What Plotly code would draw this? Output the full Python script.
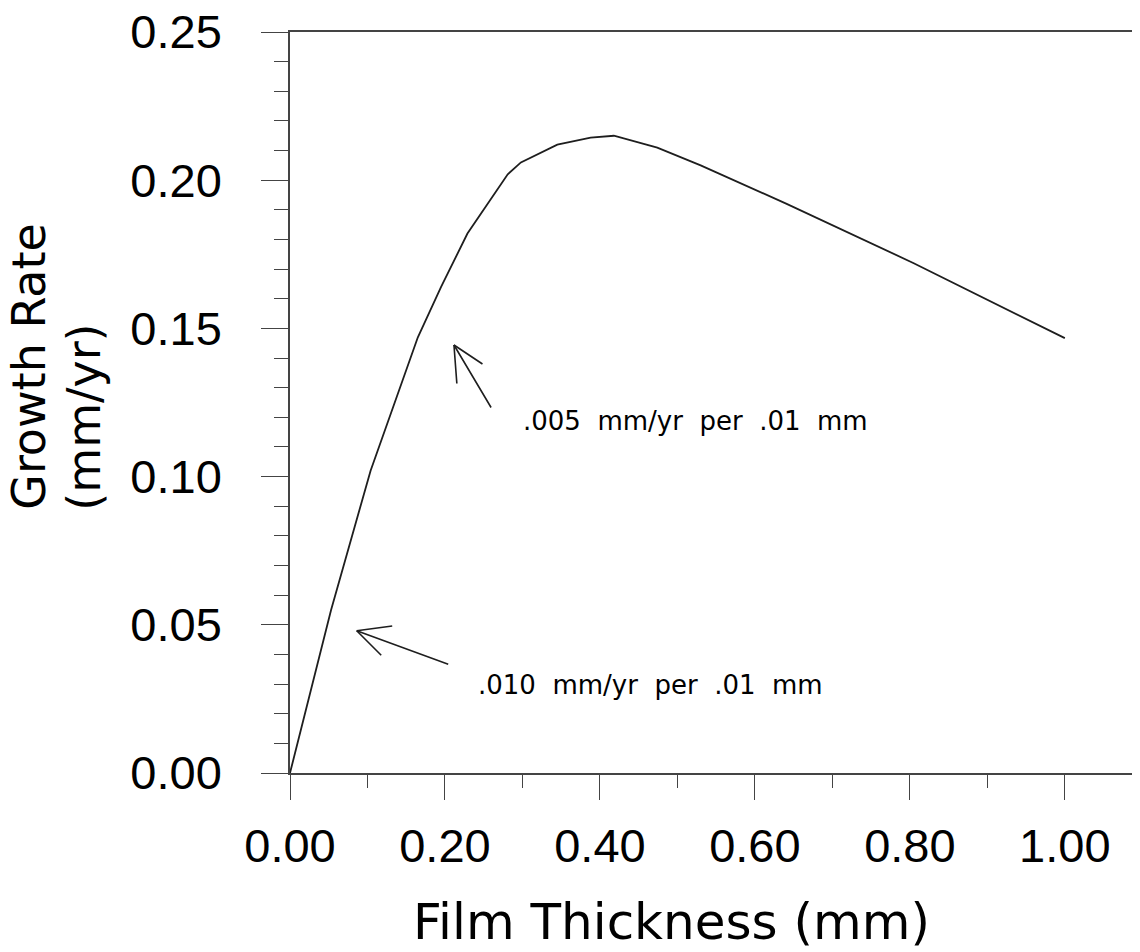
import plotly.graph_objects as go

# film thickness (mm) vs growth rate (mm/yr)
thickness = [0, 0.053, 0.104, 0.135, 0.165, 0.195, 0.229, 0.281, 0.298, 0.345, 0.388, 0.418, 0.474, 0.530, 0.641, 0.805, 1.0]
growth = [0, 0.055, 0.102, 0.125, 0.147, 0.164, 0.182, 0.202, 0.206, 0.212, 0.2144, 0.215, 0.211, 0.205, 0.192, 0.172, 0.1467]

xticks = [0, 0.2, 0.4, 0.6, 0.8, 1.0]
xticklabels = ["0.00", "0.20", "0.40", "0.60", "0.80", "1.00"]
yticks = [0, 0.05, 0.10, 0.15, 0.20, 0.25]
yticklabels = ["0.00", "0.05", "0.10", "0.15", "0.20", "0.25"]

slope_notes = [".005  mm/yr  per  .01  mm", ".010  mm/yr  per  .01  mm"]
note_pos = [(0.2975, 0.1188), (0.2400, 0.0297)]
arrow_tips = [(0.2116, 0.1444), (0.0861, 0.0480)]
# tail + two head arms, as pixel offsets from the tip
arrow_strokes = [[(38, 64), (30, 20), (3, 40)], [(93, 34), (37, -5), (26, 26)]]

INK = "#1e1e1e"
AXIS = "#444444"
TICKFONT = dict(family="Liberation Sans, Arial", size=47, color="black")
TITLEFONT = "DejaVu Sans"

fig = go.Figure()
fig.add_trace(go.Scatter(x=thickness, y=growth, mode="lines",
                         line=dict(color=INK, width=1.8), hoverinfo="skip"))

# the page body adds an 8px offset, so the figure is trimmed by that amount
fig.update_layout(
    width=1132, height=944,
    margin=dict(l=282, r=0, t=24, b=179),
    paper_bgcolor="white", plot_bgcolor="white",
    showlegend=False,
    xaxis=dict(range=[0, 1.097], tickvals=xticks, ticktext=xticklabels, tickfont=TICKFONT,
               automargin=False, ticklabeloverflow="allow",
               showgrid=False, zeroline=False, showline=True, linecolor=AXIS, linewidth=1.5,
               mirror=True, ticks="outside", ticklen=25, tickwidth=1.3, tickcolor=AXIS,
               ticklabelstandoff=6,
               minor=dict(dtick=0.1, ticks="outside", ticklen=13, tickwidth=1.3, tickcolor=AXIS)),
    yaxis=dict(range=[0, 0.25], tickvals=yticks, ticktext=yticklabels, tickfont=TICKFONT,
               automargin=False, ticklabeloverflow="allow",
               showgrid=False, zeroline=False, showline=True, linecolor=AXIS, linewidth=1.5,
               ticks="outside", ticklen=27, tickwidth=1.3, tickcolor=AXIS,
               ticklabelstandoff=30,
               minor=dict(dtick=0.01, ticks="outside", ticklen=14, tickwidth=1.3, tickcolor=AXIS)),
)

# axis titles
fig.add_annotation(text="Film Thickness (mm)", xref="paper", yref="paper", x=0.449, y=-0.201,
                   xanchor="center", yanchor="middle", showarrow=False,
                   font=dict(family=TITLEFONT, size=50, color="black"))
fig.add_annotation(text="Growth Rate", xref="paper", yref="paper", x=-0.307, y=0.352,
                   xanchor="center", yanchor="bottom", textangle=-90, showarrow=False,
                   font=dict(family=TITLEFONT, size=46, color="black"))
fig.add_annotation(text="(mm/yr)", xref="paper", yref="paper", x=-0.2424, y=0.352,
                   xanchor="center", yanchor="bottom", textangle=-90, showarrow=False,
                   font=dict(family=TITLEFONT, size=46, color="black"))

for note, (nx, ny) in zip(slope_notes, note_pos):
    fig.add_annotation(text=note.replace(" ", "\u00a0"), x=nx, y=ny, xanchor="left", yanchor="middle",
                       showarrow=False, font=dict(family=TITLEFONT, size=26, color="black"))

for (tx, ty), strokes in zip(arrow_tips, arrow_strokes):
    for ax, ay in strokes:
        fig.add_annotation(x=tx, y=ty, ax=ax, ay=ay, text="", showarrow=True,
                           arrowhead=0, arrowwidth=1.6, arrowcolor=INK)

fig.write_html("out.html")
